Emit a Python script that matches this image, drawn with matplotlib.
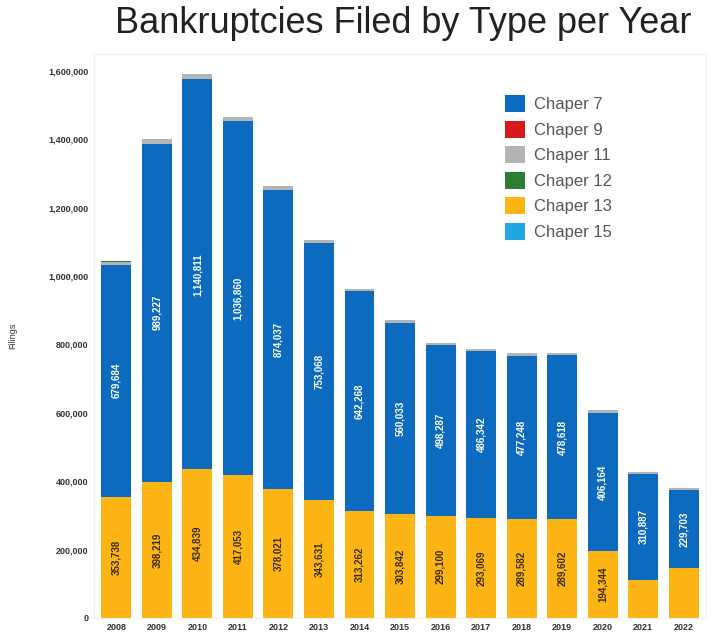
import numpy as np
import matplotlib
matplotlib.use("Agg")
import matplotlib.pyplot as plt
from matplotlib.ticker import FuncFormatter

plt.rcParams['font.family'] = ['Liberation Sans', 'DejaVu Sans']

# bankruptcy filings by chapter
years = ['2008', '2009', '2010', '2011', '2012', '2013', '2014', '2015',
         '2016', '2017', '2018', '2019', '2020', '2021', '2022']
ch13 = [353738, 398219, 434839, 417053, 378021, 343631, 313262, 303842,
        299100, 293069, 289582, 289602, 194344, 111000, 145000]
ch7 = [679684, 989227, 1140811, 1036860, 874037, 753068, 642268, 560033,
       498287, 486342, 477248, 478618, 406164, 310887, 229703]
ch11 = [9000, 13000, 14000, 11000, 10000, 8500, 7500, 7000,
        7200, 7000, 6800, 7000, 7500, 5000, 4500]
ch12 = [370, 510, 720, 650, 510, 460, 410, 430,
        460, 500, 480, 560, 600, 290, 250]
ch9 = [10, 15, 10, 15, 20, 10, 5, 8, 5, 5, 5, 5, 5, 5, 5]
ch15 = [120, 130, 150, 150, 130, 110, 100, 120, 110, 100, 100, 110, 100, 90, 80]

c7 = '#0C6BBF'
c9 = '#D7191C'
c11 = '#B4B4B4'
c12 = '#2E7D32'
c13 = '#FDB515'
c15 = '#1EA7E1'

fig = plt.figure(figsize=(7.2, 6.41), dpi=100)
ax = fig.add_axes([0.1306, 0.036, 0.85, 0.880])

x = np.arange(len(years))
w = 0.74
bottom = np.zeros(len(years))
bars13 = ax.bar(x, ch13, w, bottom=bottom, color=c13, label='Chaper 13')
bottom += np.array(ch13)
bars7 = ax.bar(x, ch7, w, bottom=bottom, color=c7, label='Chaper 7')
bottom += np.array(ch7)
b11 = ax.bar(x, ch11, w, bottom=bottom, color=c11, label='Chaper 11')
bottom += np.array(ch11)
b12 = ax.bar(x, ch12, w, bottom=bottom, color=c12, label='Chaper 12')
bottom += np.array(ch12)
b9 = ax.bar(x, ch9, w, bottom=bottom, color=c9, label='Chaper 9')
bottom += np.array(ch9)
b15 = ax.bar(x, ch15, w, bottom=bottom, color=c15, label='Chaper 15')

for i in range(len(years)):
    if ch13[i] > 150000:
        ax.text(x[i], ch13[i] / 2, f"{ch13[i]:,}", rotation=90, ha='center',
                va='center', fontsize=7, fontweight='bold', color='#3a2a00')
    ax.text(x[i], ch13[i] + ch7[i] / 2, f"{ch7[i]:,}", rotation=90,
            ha='center', va='center', fontsize=7, fontweight='bold',
            color='white')

ax.set_xlim(-0.55, len(years) - 0.45)
ax.set_ylim(0, 1650000)
ax.set_yticks(np.arange(0, 1600001, 200000))
ax.yaxis.set_major_formatter(FuncFormatter(lambda v, p: f"{int(v):,}"))
ax.set_xticks(x)
ax.set_xticklabels(years)
ax.tick_params(axis='both', length=0, labelsize=6.5, colors='#333333', pad=4)
for lbl in ax.get_xticklabels() + ax.get_yticklabels():
    lbl.set_fontweight('bold')
ax.set_ylabel('Filings', fontsize=6.5, color='#333333', labelpad=22)

for s in ax.spines.values():
    s.set_color('#f0f0f0')
    s.set_linewidth(0.8)

handles = [bars7, b9, b11, b12, bars13, b15]
labels = ['Chaper 7', 'Chaper 9', 'Chaper 11', 'Chaper 12', 'Chaper 13', 'Chaper 15']
ax.legend(handles, labels, loc='upper left', bbox_to_anchor=(0.681, 0.875),
          bbox_transform=fig.transFigure, frameon=False, fontsize=12,
          labelcolor='#555555', handlelength=1.2, handleheight=1.2,
          labelspacing=0.5, handletextpad=0.5)

fig.suptitle('Bankruptcies Filed by Type per Year', fontsize=26, color='#222222',
             x=0.56, y=0.99, va='top')

fig.savefig('out.png', dpi=100)
